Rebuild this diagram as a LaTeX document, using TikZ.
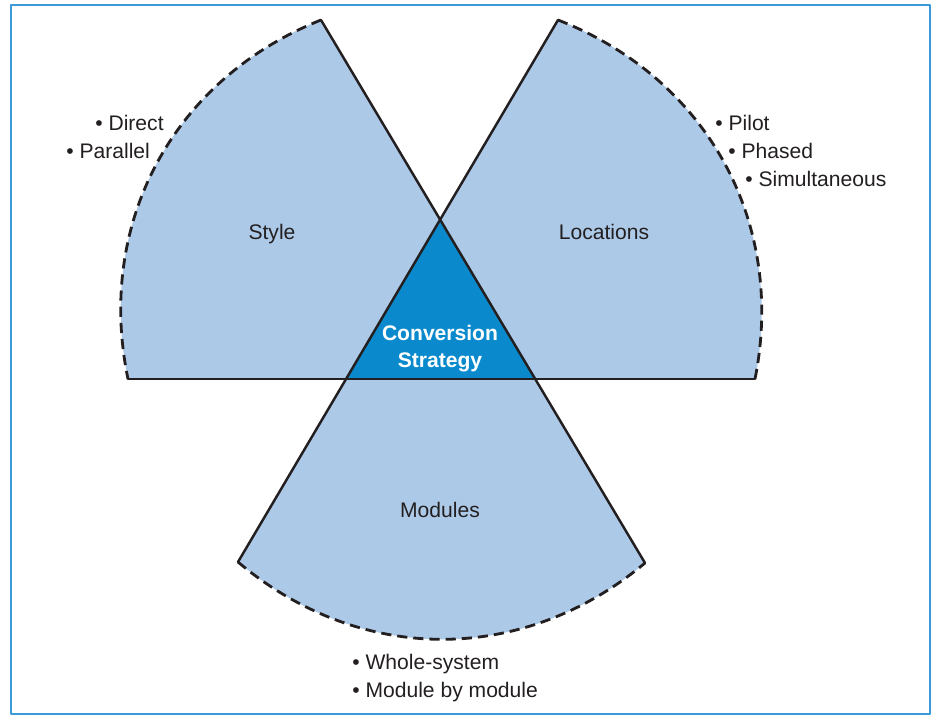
\documentclass[tikz,border=0pt]{standalone}
\usepackage{fontspec}
\setmainfont{Liberation Sans}
\usetikzlibrary{calc}
\definecolor{SectorBlue}{HTML}{ADC9E8}
\definecolor{CoreBlue}{HTML}{0A8ACD}
\definecolor{FrameBlue}{HTML}{3A9BD8}
\definecolor{InkBlack}{HTML}{231F20}

\begin{document}
\begin{tikzpicture}[
  x=0.02cm, y=-0.02cm,
  line cap=round, line join=round,
  edge/.style={InkBlack, line width=1.4pt},
  rim/.style={InkBlack, line width=1.6pt, line cap=butt, dash pattern=on 5.8pt off 3.4pt},
  sectortext/.style={font=\fontsize{12}{14}\selectfont, text=InkBlack, inner sep=0pt, anchor=base},
  bulletitem/.style={sectortext, anchor=base west},
  core/.style={font=\fontsize{12}{15.3}\selectfont\bfseries, text=white, align=center, inner sep=0pt}
]
\useasboundingbox (0,0) rectangle (932,715);

% === Outer frame ===
\draw[FrameBlue, line width=1.2pt] (11,5) rectangle (930,714);

% === Triangle corners and sector ends ===
\coordinate (T) at (440,220);
\coordinate (L) at (346,379);
\coordinate (R) at (535,379);
\coordinate (styleTop) at (321,20);
\coordinate (styleEnd) at (128,379);
\coordinate (locTop) at (558,20);
\coordinate (locEnd) at (755,379);
\coordinate (modLeft) at (238,562);
\coordinate (modRight) at (645,563);

% === Sector fills ===
\fill[SectorBlue] (R) -- (styleTop) to[bend right=40] (styleEnd) -- cycle;
\fill[SectorBlue] (L) -- (locTop) to[bend left=40] (locEnd) -- cycle;
\fill[SectorBlue] (T) -- (modLeft) to[bend right=40] (modRight) -- cycle;

% Centre triangle
\fill[CoreBlue] (T) -- (L) -- (R) -- cycle;

% === Straight edges (three long lines) ===
\draw[edge] (styleTop) -- (modRight);
\draw[edge] (locTop) -- (modLeft);
\draw[edge] (styleEnd) -- (locEnd);

% Dashed rims
\draw[rim] (styleTop) to[bend right=40] (styleEnd);
\draw[rim] (locTop) to[bend left=40] (locEnd);
\draw[rim] (modLeft) to[bend right=40] (modRight);

% === Labels ===
\node[sectortext] (style) at (272,240) {Style};
\node[sectortext] (locations) at (604,240) {Locations};
\node[sectortext] (modules) at (440,518) {Modules};
\node[core] (strategy) at (440,349) {Conversion\\Strategy};

% Bullet lists
\node[bulletitem] (direct) at (95,131) {• Direct};
\node[bulletitem] (parallel) at (66,159) {• Parallel};
\node[bulletitem] (pilot) at (715,131) {• Pilot};
\node[bulletitem] (phased) at (728,159) {• Phased};
\node[bulletitem] (simult) at (745,187) {• Simultaneous};
\node[bulletitem] (whole) at (352,669) {• Whole-system};
\node[bulletitem] (bymodule) at (352,697) {• Module by module};

\end{tikzpicture}
\end{document}
